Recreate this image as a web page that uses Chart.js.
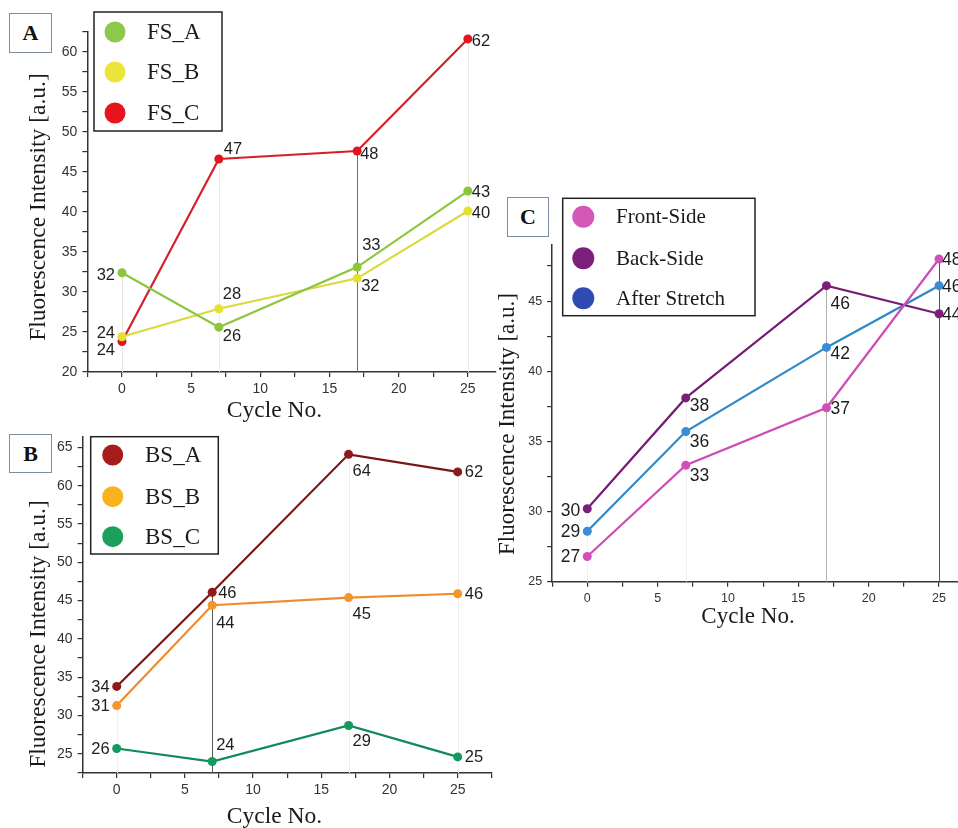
<!DOCTYPE html>
<html><head><meta charset="utf-8">
<script src="https://cdn.jsdelivr.net/npm/chart.js@4"></script>
<style>
html,body{margin:0;padding:0;background:#fff;overflow:hidden;}
body{width:958px;height:828px;position:relative;}
.panel{position:absolute;}
.panel canvas{display:block;}
.letter{position:absolute;border:1px solid #7f8da5;background:#fff;font:bold 22px "Liberation Serif",serif;color:#111;display:flex;align-items:center;justify-content:center;box-sizing:border-box;}
</style></head><body>
<div class="panel" style="left:0;top:0;width:500px;height:425px"><canvas id="cA" width="500" height="425"></canvas></div>
<div class="panel" style="left:0;top:420px;width:500px;height:410px"><canvas id="cB" width="500" height="410"></canvas></div>
<div class="panel" style="left:490px;top:180px;width:490px;height:460px"><canvas id="cC" width="490" height="460"></canvas></div>
<div class="letter" style="left:9px;top:13px;width:43px;height:40px">A</div>
<div class="letter" style="left:9px;top:434px;width:43px;height:39px">B</div>
<div class="letter" style="left:507px;top:197px;width:42px;height:40px">C</div>
<script>
// ---- data ----
const cycles = [0, 7, 17, 25];
const fsA = [32.4, 25.6, 33.1, 42.6];
const fsB = [24.4, 27.9, 31.7, 40.1];
const fsC = [23.8, 46.6, 47.6, 61.6];
const bsA = [33.8, 46.1, 64.1, 61.8];
const bsB = [31.3, 44.4, 45.4, 45.9];
const bsC = [25.7, 24.0, 28.7, 24.6];
const frontSide = [26.8, 33.3, 37.4, 48.0];
const backSide = [30.2, 38.1, 46.1, 44.1];
const afterStretch = [28.6, 35.7, 41.7, 46.1];
const xTicks = [-2.5, 0, 2.5, 5, 7.5, 10, 12.5, 15, 17.5, 20, 22.5, 25, 27.5];
const yTicksA = [20, 22.5, 25, 27.5, 30, 32.5, 35, 37.5, 40, 42.5, 45, 47.5, 50, 52.5, 55, 57.5, 60, 62.5];
const yTicksB = [22.5, 25, 27.5, 30, 32.5, 35, 37.5, 40, 42.5, 45, 47.5, 50, 52.5, 55, 57.5, 60, 62.5, 65];
const yTicksC = [25, 27.5, 30, 32.5, 35, 37.5, 40, 42.5, 45, 47.5];
const yTitle = 'Fluorescence Intensity [a.u.]';
const xTitle = 'Cycle No.';

const SERIF = '"Liberation Serif", "Times New Roman", serif';
const SANS = '"Liberation Sans", Arial, sans-serif';

function tickFn(arr) {
  return function (scale) {
    scale.ticks = arr.filter(v => v >= scale.min - 1e-9 && v <= scale.max + 1e-9).map(v => ({ value: v }));
  };
}
function lbl(v) { return (Math.abs(v % 5) < 1e-9) ? String(v) : ''; }

function makePanel(cfg) {
  const datasets = cfg.series.map(s => ({
    label: s.name,
    data: cycles.map((c, i) => ({ x: c, y: s.values[i] })),
    borderColor: s.line, backgroundColor: s.point,
    pointBackgroundColor: s.point, pointBorderColor: s.point,
    borderWidth: 2.2, pointRadius: 4.5, pointBorderWidth: 0, tension: 0, clip: false
  }));
  const overlay = {
    id: 'overlay' + cfg.canvas,
    beforeDatasetsDraw(chart) {
      const { ctx, chartArea, scales: { x, y } } = chart;
      ctx.save();
      cycles.forEach((c, i) => {
        const top = Math.max(...cfg.series.map(s => s.values[i]));
        const px = Math.round(x.getPixelForValue(c)) + 0.5;
        ctx.strokeStyle = cfg.dropColors[i];
        ctx.lineWidth = 1;
        ctx.beginPath();
        ctx.moveTo(px, y.getPixelForValue(top));
        ctx.lineTo(px, chartArea.bottom);
        ctx.stroke();
      });
      ctx.restore();
    },
    afterDatasetsDraw(chart) {
      const ctx = chart.ctx;
      ctx.save();
      // value labels
      ctx.font = cfg.labelFont + 'px ' + SANS;
      ctx.fillStyle = '#1e1e1e';
      ctx.textBaseline = 'middle';
      cfg.series.forEach((s, d) => {
        const meta = chart.getDatasetMeta(d);
        s.values.forEach((v, i) => {
          const el = meta.data[i];
          const off = cfg.labelOffsets[d][i];
          ctx.textAlign = off[0] < 0 ? 'right' : 'left';
          ctx.fillText(String(Math.round(v)), el.x + off[0], el.y + off[1] + 1);
        });
      });
      // legend
      const L = cfg.legend;
      ctx.fillStyle = '#fff';
      ctx.fillRect(L.x0, L.y0, L.x1 - L.x0, L.y1 - L.y0);
      ctx.strokeStyle = '#222';
      ctx.lineWidth = 1.5;
      ctx.strokeRect(L.x0, L.y0, L.x1 - L.x0, L.y1 - L.y0);
      ctx.font = L.font + 'px ' + SERIF;
      ctx.textAlign = 'left';
      ctx.textBaseline = 'middle';
      cfg.series.forEach((s, d) => {
        ctx.fillStyle = s.legend;
        ctx.beginPath();
        ctx.arc(L.cx, L.cy[d], L.r, 0, Math.PI * 2);
        ctx.fill();
        ctx.fillStyle = '#1a1a1a';
        ctx.fillText(s.name, L.tx, L.cy[d] + 1);
      });
      ctx.restore();
    },
    afterDraw(chart) {
      const ctx = chart.ctx;
      const T = cfg.titles;
      ctx.save();
      ctx.fillStyle = '#1a1a1a';
      ctx.font = T.size + 'px ' + SERIF;
      ctx.textAlign = 'center';
      ctx.textBaseline = 'alphabetic';
      ctx.fillText(xTitle, T.xx, T.xy);
      ctx.translate(T.yx, T.yy);
      ctx.rotate(-Math.PI / 2);
      ctx.fillText(yTitle, 0, 0);
      ctx.restore();
    }
  };
  const axisCommon = {
    type: 'linear',
    grid: { drawOnChartArea: false, drawTicks: true, tickLength: 5, color: '#333', lineWidth: 1.2 },
    border: { display: true, color: '#333', width: 1.5 },
  };
  return new Chart(document.getElementById(cfg.canvas), {
    type: 'line',
    data: { datasets },
    options: {
      responsive: false, animation: false, events: [],
      layout: { padding: cfg.padding },
      plugins: { legend: { display: false }, tooltip: { enabled: false } },
      scales: {
        x: Object.assign({}, axisCommon, {
          min: cfg.xMin, max: cfg.xMax,
          afterBuildTicks: tickFn(xTicks),
          afterFit: s => { s.height = 30; },
          ticks: { callback: lbl, font: { family: SANS, size: cfg.tickFont }, color: '#333', padding: cfg.xPad, maxRotation: 0, autoSkip: false }
        }),
        y: Object.assign({}, axisCommon, {
          min: cfg.yMin, max: cfg.yMax,
          afterBuildTicks: tickFn(cfg.yTicks),
          afterFit: s => { s.width = cfg.yWidth; },
          ticks: { callback: lbl, font: { family: SANS, size: cfg.tickFont }, color: '#333', padding: 5, autoSkip: false }
        })
      }
    },
    plugins: [overlay]
  });
}

// Panel A
makePanel({
  canvas: 'cA', xMin: -2.5, xMax: 27, yMin: 20, yMax: 62.5, yTicks: yTicksA,
  yWidth: 60, padding: { left: 27.4, top: 31.7, right: 4.3, bottom: 23 },
  tickFont: 14, xPad: 4, labelFont: 16.5,
  series: [
    { name: 'FS_A', values: fsA, line: '#8cc63e', point: '#8cc63e', legend: '#8dc84a' },
    { name: 'FS_B', values: fsB, line: '#dcd93c', point: '#e6e030', legend: '#ece438' },
    { name: 'FS_C', values: fsC, line: '#d4202a', point: '#e3141e', legend: '#e8141c' }
  ],
  dropColors: ['#e4e4e4', '#ebebeb', '#6e6e6e', '#ececec'],
  labelOffsets: [
    [[-7, 2], [4, 8], [5, -23], [4, 0]],
    [[-7, -4], [4, -15], [4, 7], [4, 1]],
    [[-7, 8], [5, -11], [3, 2], [4, 2]]
  ],
  legend: { x0: 94, y0: 12, x1: 222, y1: 131, cx: 115, cy: [32, 72, 113], r: 10.5, tx: 147, font: 23 },
  titles: { size: 23.5, xx: 274.5, xy: 417, yx: 45, yy: 207 }
});

// Panel B
makePanel({
  canvas: 'cB', xMin: -2.5, xMax: 27.5, yMin: 22.5, yMax: 66.4, yTicks: yTicksB,
  yWidth: 60, padding: { left: 22.6, top: 16.7, right: 8.2, bottom: 27 },
  tickFont: 14, xPad: 4, labelFont: 16.5,
  series: [
    { name: 'BS_A', values: bsA, line: '#7a1616', point: '#8e1a1a', legend: '#a51c1c' },
    { name: 'BS_B', values: bsB, line: '#f08a2c', point: '#f4962c', legend: '#f7b21e' },
    { name: 'BS_C', values: bsC, line: '#128a5a', point: '#139a5e', legend: '#1aa05a' }
  ],
  dropColors: ['#f0f0f0', '#5a5a5a', '#eeeeee', '#eeeeee'],
  labelOffsets: [
    [[-7, 0], [6, 0], [4, 16], [7, 0]],
    [[-7, 0], [4, 17], [4, 16], [7, 0]],
    [[-7, 0], [4, -17], [4, 15], [7, 0]]
  ],
  legend: { x0: 90.7, y0: 16.7, x1: 218.3, y1: 134, cx: 112.7, cy: [35, 76.7, 116.7], r: 10.5, tx: 145, font: 23 },
  titles: { size: 23.5, xx: 274.5, xy: 403.3, yx: 45, yy: 214 }
});

// Panel C
makePanel({
  canvas: 'cC', xMin: -2.5, xMax: 27.5, yMin: 25, yMax: 49, yTicks: yTicksC,
  yWidth: 50, padding: { left: 12.1, top: 65, right: 5.8, bottom: 28.3 },
  tickFont: 12.5, xPad: 4, labelFont: 17.5,
  series: [
    { name: 'Front-Side', values: frontSide, line: '#cc4eb4', point: '#d24fba', legend: '#d558b8' },
    { name: 'Back-Side', values: backSide, line: '#761c76', point: '#7a1f7a', legend: '#7b1f7b' },
    { name: 'After Stretch', values: afterStretch, line: '#2d88c8', point: '#3a8cd4', legend: '#2f4ab0' }
  ],
  dropColors: ['#f0f0f0', '#f0f0f0', '#b0b0b0', '#555555'],
  labelOffsets: [
    [[-7, 0], [4, 10], [4, 0], [3, 0]],
    [[-7, 1], [4, 7], [4, 17], [3, 0]],
    [[-7, 0], [4, 10], [4, 6], [3, 0]]
  ],
  legend: { x0: 72.7, y0: 18.3, x1: 265, y1: 135.7, cx: 93.3, cy: [36.7, 78.3, 118.3], r: 11, tx: 126, font: 21 },
  titles: { size: 23, xx: 258, xy: 442.7, yx: 24, yy: 244 }
});
</script>
</body></html>
